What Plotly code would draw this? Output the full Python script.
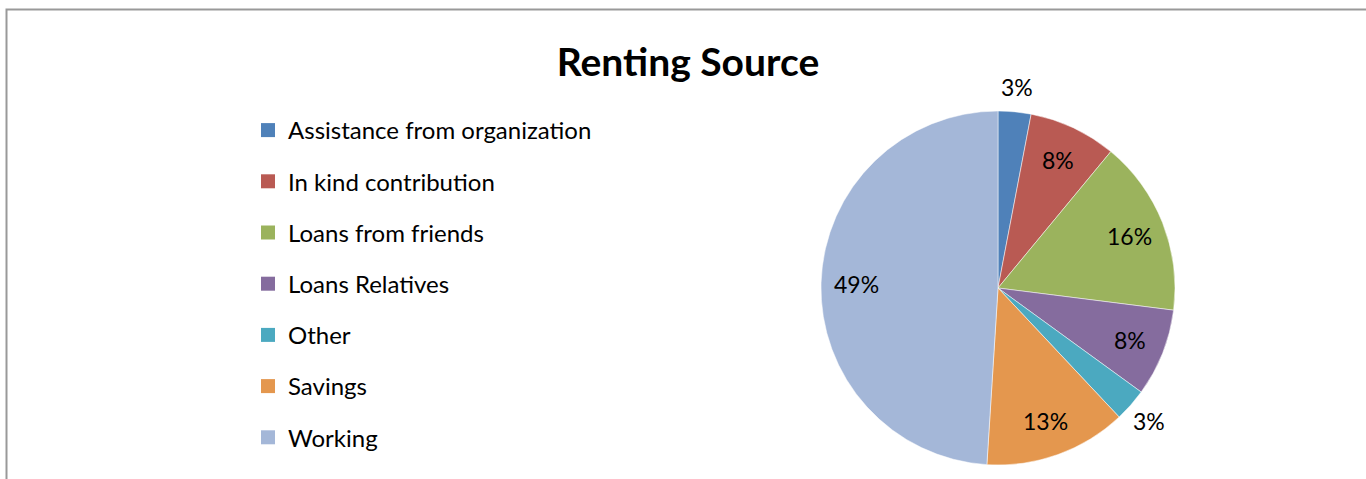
import math
import plotly.graph_objects as go

categories = ["Assistance from organization", "In kind contribution", "Loans from friends",
              "Loans Relatives", "Other", "Savings", "Working"]
values = [3, 8, 16, 8, 3, 13, 49]
colors = ["#4F81B9", "#B95A53", "#9BB35D", "#856C9E", "#4BA9C0", "#E4974E", "#A4B7D8"]
label_outside = [True, False, False, False, True, False, False]

W, H = 1366, 479
FONT = "Lato, 'Open Sans', sans-serif"

# pie placement (pixels, from top-left)
CX, CY, R = 998, 288, 177

fig = go.Figure()
fig.add_trace(go.Pie(
    labels=categories, values=values, sort=False, direction="clockwise", rotation=0,
    marker=dict(colors=colors, line=dict(color="white", width=0.5)),
    textinfo="none",
    domain=dict(x=[(CX - R) / W, (CX + R) / W], y=[1 - (CY + R) / H, 1 - (CY - R) / H]),
    showlegend=False, hoverinfo="label+percent",
))

# percentage labels placed along each slice's mid-angle
total = sum(values)
cum = 0
for v, outside in zip(values, label_outside):
    mid = (cum + v / 2) / total * 2 * math.pi
    cum += v
    d = R * (1.14 if outside else 0.8)
    px = CX + d * math.sin(mid)
    py = CY - d * math.cos(mid)
    fig.add_annotation(x=px / W, y=1 - py / H, xref="paper", yref="paper",
                       text=f"{round(v / total * 100)}%", showarrow=False,
                       xanchor="center", yanchor="middle",
                       font=dict(family=FONT, size=23, color="black"))

# legend entries (one group each so the gap between entries can be set)
for cat, col in zip(categories, colors):
    fig.add_trace(go.Scatter(
        x=[None], y=[None], mode="markers", name=cat, legendgroup=cat,
        marker=dict(symbol="square", size=14, color=col),
    ))

fig.update_layout(
    width=W, height=H, margin=dict(l=0, r=0, t=0, b=0, autoexpand=False),
    paper_bgcolor="white", plot_bgcolor="white",
    title=dict(text="<b>Renting Source</b>", x=688 / W, xanchor="center",
               y=1 - 62 / H, yanchor="middle",
               font=dict(family=FONT, size=39, color="black")),
    xaxis=dict(visible=False), yaxis=dict(visible=False),
    legend=dict(x=248 / W, xanchor="left", y=1 - 108 / H, yanchor="top",
                font=dict(family=FONT, size=24, color="black"),
                tracegroupgap=17, itemsizing="trace", bgcolor="rgba(0,0,0,0)"),
    shapes=[dict(type="path", xref="paper", yref="paper",
                 path=f"M {6.5 / W} 0 L {6.5 / W} {1 - 9.5 / H} L 1 {1 - 9.5 / H}",
                 line=dict(color="#999999", width=2))],
)

fig.write_html("out.html", config={"displayModeBar": False},
               post_script="document.body.style.margin='0';")
